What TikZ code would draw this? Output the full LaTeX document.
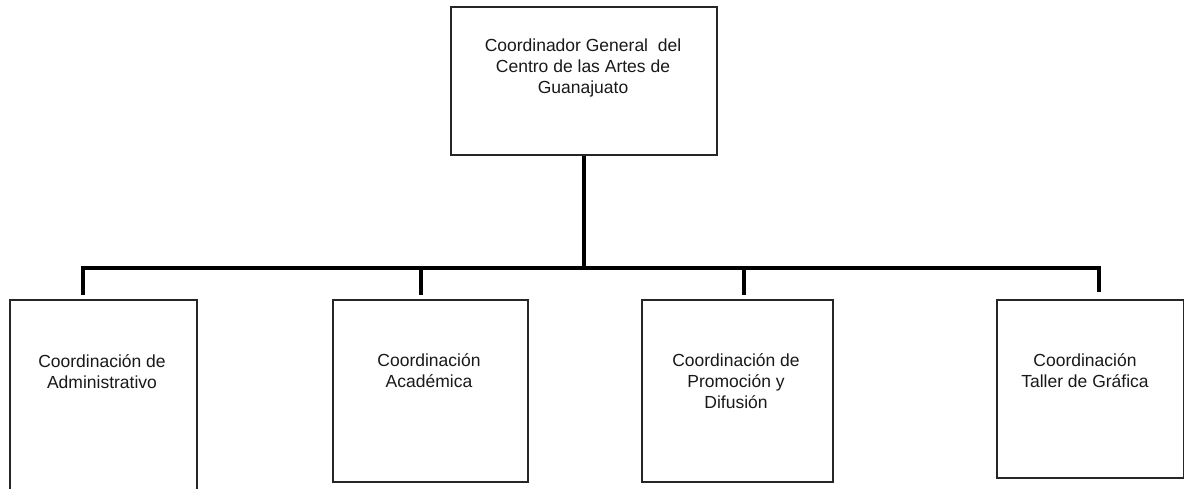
\documentclass[tikz,border=0pt]{standalone}
\usepackage{fontspec}
\setmainfont{Liberation Sans}
\begin{document}
\begin{tikzpicture}[x=1pt,y=-1pt,
  box/.style={draw=black!85,line width=1.6pt,rectangle,inner sep=0pt,anchor=north west},
  lbl/.style={align=center,font=\fontsize{17.5}{21}\selectfont,text=black!90,anchor=north,inner sep=0pt},
  conn/.style={line width=3.5pt,black}]
\useasboundingbox (0,0) rectangle (1184,488);
\clip (0,0) rectangle (1184,488);
\fill[white] (0,0) rectangle (1184,488);
% boxes
\node[box,minimum width=266pt,minimum height=148pt] (top) at (450,6) {};
\node[box,minimum width=187pt,minimum height=200pt] (b1) at (9,299) {};
\node[box,minimum width=195pt,minimum height=182pt] (b2) at (332,299) {};
\node[box,minimum width=191pt,minimum height=182pt] (b3) at (641,299) {};
\node[box,minimum width=187pt,minimum height=178pt] (b4) at (996,299) {};
% labels
\node[lbl] (t0) at (583,39) {Coordinador General \ del\\Centro de las Artes de\\Guanajuato};
\node[lbl] (t1) at (102,354) {Coordinación de\\Administrativo};
\node[lbl] (t2) at (429,353) {Coordinación\\Académica};
\node[lbl] (t3) at (736,353) {Coordinación de\\Promoción y\\Difusión};
\node[lbl] (t4) at (1085,353) {Coordinación\\Taller de Gráfica};
% junctions
\coordinate (j1) at (83,268);
\coordinate (j2) at (421,268);
\coordinate (j3) at (744,268);
\coordinate (j4) at (1099,268);
\coordinate (e1) at (83,295);
\coordinate (e2) at (421,295);
\coordinate (e3) at (744,295);
\coordinate (e4) at (1099,292);
\draw[conn] (top.south) -- (top.south |- j1);
\draw[conn,line join=miter] (e1) -- (j1) -- (j4) -- (e4);
\draw[conn] (j2) -- (e2);
\draw[conn] (j3) -- (e3);
\end{tikzpicture}
\end{document}
